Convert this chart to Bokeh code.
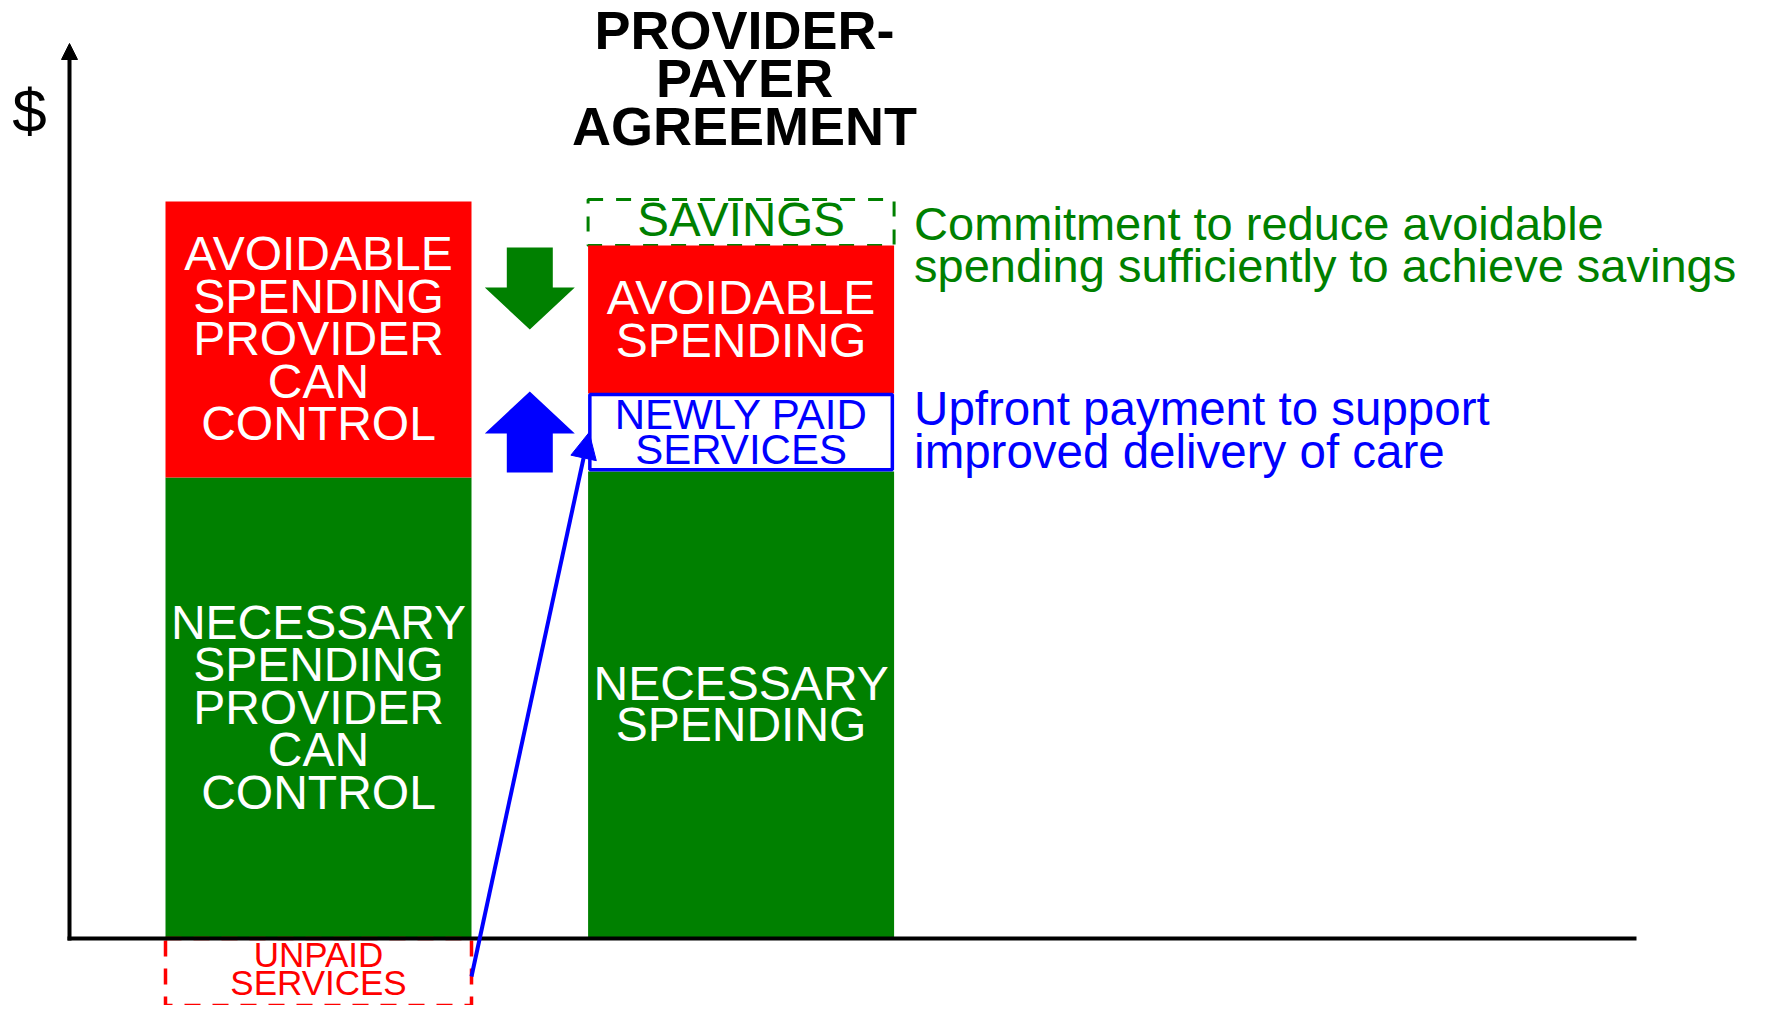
from bokeh.plotting import figure
from bokeh.models import Range1d, Arrow, NormalHead
from bokeh.core.properties import value
from bokeh.embed import file_html
from bokeh.resources import INLINE

# ---------------- data (arbitrary $ units) ----------------
bar_x = [1.0, 2.381]          # left: current, right: provider-payer agreement
bar_width = 1.0

necessary_left = 46.1
avoidable_left = 27.6
unpaid_left = 8.0

necessary_right = 46.7
newly_paid_right = 7.8
avoidable_right = 14.8
savings_right = 4.6
avoidable_cut = 8.2           # length of the "reduce" arrow

left_avoidable_lines = ["AVOIDABLE", "SPENDING", "PROVIDER", "CAN", "CONTROL"]
left_necessary_lines = ["NECESSARY", "SPENDING", "PROVIDER", "CAN", "CONTROL"]
unpaid_lines = ["UNPAID", "SERVICES"]
right_necessary_lines = ["NECESSARY", "SPENDING"]
right_newly_lines = ["NEWLY PAID", "SERVICES"]
right_avoidable_lines = ["AVOIDABLE", "SPENDING"]
savings_lines = ["SAVINGS"]
title_lines = ["PROVIDER-", "PAYER", "AGREEMENT"]
savings_note = ["Commitment to reduce avoidable", "spending sufficiently to achieve savings"]
payment_note = ["Upfront payment to support", "improved delivery of care"]
y_label = "$"

# ---------------- colours / styling ----------------
RED = "#FF0000"
GREEN = "#008000"
BLUE = "#0000FF"
FONT = value("Liberation Sans")

W, H = 1752, 1005
PX_X = 306.0   # px per x unit
PX_Y = 10.0    # px per y unit
x0 = 1.0 - 318.0 / PX_X
x1 = x0 + W / PX_X
y1 = 938.0 / PX_Y
y0 = y1 - H / PX_Y
BASE_FIX = 0.37  # em correction for the renderer's alphabetic baseline

p = figure(width=W, height=H, x_range=Range1d(x0, x1), y_range=Range1d(y0, y1),
           output_backend="svg", toolbar_location=None,
           x_axis_location=None, y_axis_location=None, min_border=0,
           outline_line_color=None, background_fill_color="white",
           border_fill_color="white")
p.grid.visible = False

xl, xr = bar_x
half = bar_width / 2

# ---------------- bars ----------------
left_top = necessary_left + avoidable_left
p.vbar(x=[xl], width=bar_width, bottom=[0], top=[necessary_left],
       fill_color=GREEN, line_color=None)
p.vbar(x=[xl], width=bar_width, bottom=[necessary_left], top=[left_top],
       fill_color=RED, line_color=None)
p.vbar(x=[xl], width=bar_width, bottom=[-unpaid_left], top=[0],
       fill_color=None, line_color=RED, line_width=3.5, line_dash="16 12")

newly_top = necessary_right + newly_paid_right
avoid_top = newly_top + avoidable_right
sav_top = avoid_top + savings_right
p.vbar(x=[xr], width=bar_width, bottom=[0], top=[necessary_right],
       fill_color=GREEN, line_color=None)
p.vbar(x=[xr], width=bar_width, bottom=[avoid_top], top=[sav_top],
       fill_color=None, line_color=GREEN, line_width=3, line_dash="15 13")
p.vbar(x=[xr], width=bar_width, bottom=[newly_top], top=[avoid_top],
       fill_color=RED, line_color=None)
p.vbar(x=[xr], width=bar_width - 3.5 / PX_X, bottom=[necessary_right + 0.18],
       top=[newly_top - 0.1],
       fill_color="white", line_color=BLUE, line_width=3.5)


# ---------------- text helpers ----------------
def centered_block(lines, xc, yc, size, spacing, color, style="normal"):
    n = len(lines)
    cap = 0.716 * size
    ys = [yc - ((i - (n - 1) / 2) * spacing + cap / 2 - BASE_FIX * size) / PX_Y
          for i in range(n)]
    p.text(x=[xc] * n, y=ys, text=lines, text_font=FONT,
           text_font_size=f"{size}px", text_color=color, text_align="center",
           text_baseline="alphabetic", text_font_style=style)


def block_from(lines, x, y_first, size, spacing, color, align="left", style="normal"):
    n = len(lines)
    ys = [y_first - (i * spacing - BASE_FIX * size) / PX_Y for i in range(n)]
    p.text(x=[x] * n, y=ys, text=lines, text_font=FONT,
           text_font_size=f"{size}px", text_color=color, text_align=align,
           text_baseline="alphabetic", text_font_style=style)


centered_block(left_avoidable_lines, xl, (necessary_left + left_top) / 2, 48, 42.5, "white")
centered_block(left_necessary_lines, xl, necessary_left / 2, 48, 42.5, "white")
centered_block(right_necessary_lines, xr, necessary_right / 2, 48, 41, "white")
centered_block(right_newly_lines, xr, (necessary_right + newly_top) / 2, 42, 35, BLUE)
centered_block(right_avoidable_lines, xr, (newly_top + avoid_top) / 2, 48, 43, "white")
centered_block(savings_lines, xr, (avoid_top + sav_top) / 2 + 0.2, 47.5, 40, GREEN)
# unpaid label: kept inside the visible area (box runs below the frame edge)
block_from(unpaid_lines, xl, -2.85, 35, 28, RED, align="center")

block_from(title_lines, xr + 3.5 / PX_X, sav_top + 150 / PX_Y, 54, 48, "black",
           align="center", style="bold")

note_x = xr + half + 20 / PX_X
block_from(savings_note, note_x, avoid_top + 0.5, 47, 42, GREEN)
block_from(payment_note, note_x, (necessary_right + newly_top) / 2 + 0.6, 47.5, 43, BLUE)

# ---------------- axes ----------------
axis_x = 1.0 - 249 / PX_X
axis_end_x = 1.0 + 1318 / PX_X
axis_top = 89.5

p.segment(x0=[axis_x - 2 / PX_X], y0=[0], x1=[axis_end_x], y1=[0],
          line_color="black", line_width=4)
p.add_layout(Arrow(end=NormalHead(size=16, fill_color="black", line_color="black",
                                  line_width=1),
                   x_start=axis_x, y_start=-0.2, x_end=axis_x, y_end=axis_top,
                   line_color="black", line_width=4))
p.text(x=[axis_x - 40 / PX_X], y=[80.5 + BASE_FIX * 62 / PX_Y], text=[y_label],
       text_font=FONT, text_font_size="62px", text_color="black",
       text_align="center", text_baseline="alphabetic")

# ---------------- block arrows ----------------
mid_x = ((xl + half) + (xr - half)) / 2
head_hw = 45 / PX_X
shaft_hw = 23 / PX_X
head_len = 4.2

g_top = avoid_top - 0.2
g_tip = g_top - avoidable_cut
g_base = g_tip + head_len
p.patch(x=[mid_x - shaft_hw, mid_x + shaft_hw, mid_x + shaft_hw, mid_x + head_hw,
           mid_x, mid_x - head_hw, mid_x - shaft_hw],
        y=[g_top, g_top, g_base, g_base, g_tip, g_base, g_base],
        fill_color=GREEN, line_color=None)

b_tip = newly_top + 0.2
b_bottom = necessary_right - 0.1
b_base = b_tip - head_len
p.patch(x=[mid_x - shaft_hw, mid_x + shaft_hw, mid_x + shaft_hw, mid_x + head_hw,
           mid_x, mid_x - head_hw, mid_x - shaft_hw],
        y=[b_bottom, b_bottom, b_base, b_base, b_tip, b_base, b_base],
        fill_color=BLUE, line_color=None)

# thin arrow: unpaid services -> newly paid services
p.add_layout(Arrow(end=NormalHead(size=26, fill_color=BLUE, line_color=BLUE, line_width=1),
                   x_start=xl + half, y_start=-unpaid_left / 2 + 0.2,
                   x_end=xr - half + 1 / PX_X, y_end=(necessary_right + newly_top) / 2,
                   line_color=BLUE, line_width=4))

open("out.html", "w").write(file_html(p, INLINE))
